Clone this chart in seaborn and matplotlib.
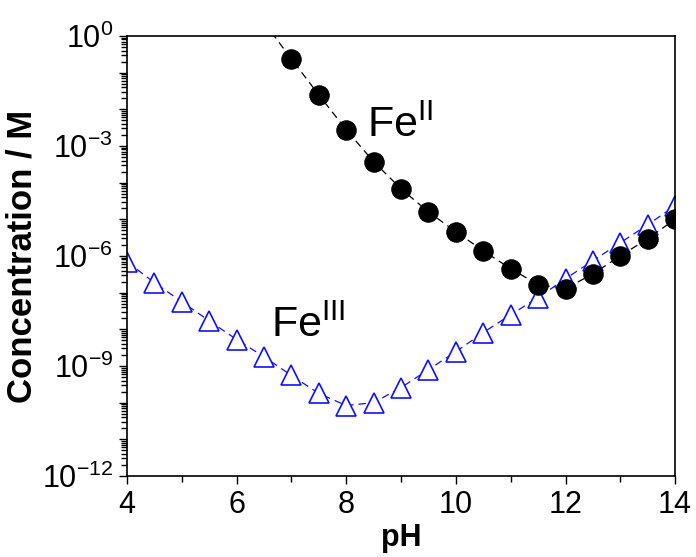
import matplotlib
matplotlib.use('Agg')
import matplotlib.pyplot as plt
import matplotlib.ticker as mticker
import seaborn as sns
import numpy as np

# data (log10 of concentration)
ph_fe2 = [6.5, 7.0, 7.5, 8.0, 8.5, 9.0, 9.5, 10.0, 10.5, 11.0, 11.5, 12.0, 12.5, 13.0, 13.5, 14.0]
log_fe2 = [0.37, -0.63, -1.61, -2.56, -3.43, -4.17, -4.80, -5.34, -5.86, -6.35, -6.78, -6.89,
           -6.49, -6.00, -5.53, -5.00]

ph_fe3 = [4.0, 4.5, 5.0, 5.5, 6.0, 6.5, 7.0, 7.5, 8.0, 8.5, 9.0, 9.5, 10.0, 10.5, 11.0,
          11.5, 12.0, 12.5, 13.0, 13.5, 14.0]
log_fe3 = [-6.16, -6.73, -7.25, -7.77, -8.28, -8.75, -9.26, -9.75, -10.08, -10.00, -9.59,
           -9.10, -8.61, -8.09, -7.60, -7.14, -6.62, -6.13, -5.64, -5.15, -4.63]

y_decades = list(range(-12, 1))
y_labelled = [-12, -9, -6, -3, 0]
x_ticks = [4, 6, 8, 10, 12, 14]
x_minor = [5, 7, 9, 11, 13]

sns.set_style("ticks")
plt.rcParams['font.family'] = ['Liberation Sans', 'DejaVu Sans']
plt.rcParams['mathtext.fontset'] = 'custom'
plt.rcParams['mathtext.rm'] = 'Liberation Sans'
plt.rcParams['mathtext.it'] = 'Liberation Sans:italic'
plt.rcParams['mathtext.bf'] = 'Liberation Sans:bold'
for key in ['text.color', 'axes.labelcolor', 'xtick.color', 'ytick.color', 'axes.edgecolor']:
    plt.rcParams[key] = 'black'
plt.rcParams.update({
    'xtick.major.size': 6, 'xtick.major.width': 1.0,
    'xtick.minor.size': 4, 'xtick.minor.width': 1.0,
    'ytick.major.size': 6, 'ytick.major.width': 1.0,
    'ytick.minor.size': 4, 'ytick.minor.width': 1.0,
    'xtick.direction': 'out', 'ytick.direction': 'out',
    'axes.linewidth': 1.2,
})

fig = plt.figure(figsize=(6.96, 5.57), dpi=100)
ax = fig.add_axes([0.1825, 0.1455, 0.7875, 0.79])

sns.lineplot(x=ph_fe3, y=10.0 ** np.array(log_fe3), ax=ax, color='#1010ff',
             linestyle=(0, (6, 4)), linewidth=0.9, marker='^', markersize=15,
             markerfacecolor='white', markeredgecolor='#1010ff', markeredgewidth=1.2,
             zorder=2)
sns.lineplot(x=ph_fe2, y=10.0 ** np.array(log_fe2), ax=ax, color='black',
             linestyle=(0, (6, 4)), linewidth=0.9, marker='o', markersize=14,
             markerfacecolor='black', markeredgecolor='black', zorder=3)

ax.set_yscale('log')
ax.set_xlim(4, 14)
ax.set_ylim(1e-12, 1e0)

ax.set_xlabel('pH', fontsize=22, fontweight='bold', labelpad=2)
ax.set_ylabel('Concentration / M', fontsize=25, fontweight='bold', labelpad=2)

ax.text(8.38, 10 ** -2.45, r'Fe$^{\mathrm{II}}$', fontsize=31, va='center', ha='left')
ax.text(6.62, 10 ** -7.9, r'Fe$^{\mathrm{III}}$', fontsize=31, va='center', ha='left')

# every decade gets a major tick, only every third one a label
ax.yaxis.set_major_locator(mticker.FixedLocator([10.0 ** d for d in y_decades]))
ax.yaxis.set_major_formatter(mticker.FixedFormatter(
    [r'$10^{%d}$' % d if d in y_labelled else '' for d in y_decades]))
y_minor = [m * 10.0 ** d for d in y_decades[:-1] for m in range(2, 10)]
ax.yaxis.set_minor_locator(mticker.FixedLocator(y_minor))
ax.yaxis.set_minor_formatter(mticker.NullFormatter())
ax.xaxis.set_major_locator(mticker.FixedLocator(x_ticks))
ax.xaxis.set_minor_locator(mticker.FixedLocator(x_minor))
ax.xaxis.set_minor_formatter(mticker.NullFormatter())
ax.tick_params(axis='both', which='major', labelsize=22, pad=4)
ax.tick_params(axis='y', which='minor', left=True, length=4, width=1.0)
ax.tick_params(axis='x', which='minor', bottom=True, length=4, width=1.0)

fig.savefig('out.png', dpi=100)
